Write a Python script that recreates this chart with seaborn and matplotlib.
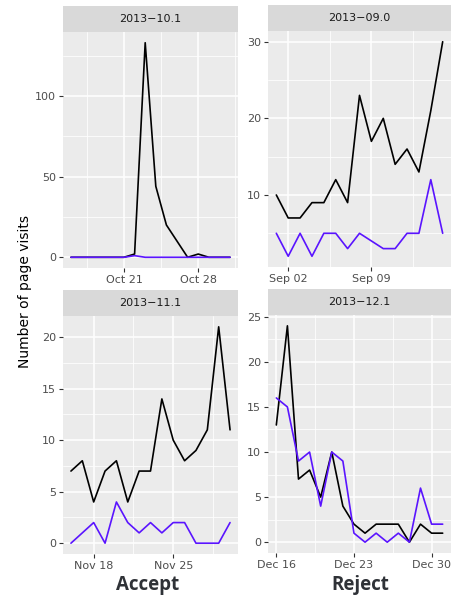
import pandas as pd
import numpy as np
import matplotlib
matplotlib.use("Agg")
import matplotlib.pyplot as plt
import matplotlib.dates as mdates
import seaborn as sns

# Daily page visits per facet (black line, purple line)
oct_start = "2013-10-16"
oct_black = [0, 0, 0, 0, 0, 0, 2, 133, 44, 20, 10, 0, 2, 0, 0, 0]
oct_purple = [0, 0, 0, 0, 0, 0, 1, 0, 0, 0, 0, 0, 0, 0, 0, 0]

sep_start = "2013-09-01"
sep_black = [10, 7, 7, 9, 9, 12, 9, 23, 17, 20, 14, 16, 13, 21, 30]
sep_purple = [5, 2, 5, 2, 5, 5, 3, 5, 4, 3, 3, 5, 5, 12, 5]

nov_start = "2013-11-16"
nov_black = [7, 8, 4, 7, 8, 4, 7, 7, 14, 10, 8, 9, 11, 21, 11]
nov_purple = [0, 1, 2, 0, 4, 2, 1, 2, 1, 2, 2, 0, 0, 0, 2]

dec_start = "2013-12-16"
dec_black = [13, 24, 7, 8, 5, 10, 4, 2, 1, 2, 2, 2, 0, 2, 1, 1]
dec_purple = [16, 15, 9, 10, 4, 10, 9, 1, 0, 1, 0, 1, 0, 6, 2, 2]

strip_labels = ["2013\u221210.1", "2013\u221209.0", "2013\u221211.1", "2013\u221212.1"]
x_ticks = [["2013-10-21", "2013-10-28"],
           ["2013-09-02", "2013-09-09"],
           ["2013-11-18", "2013-11-25"],
           ["2013-12-16", "2013-12-23", "2013-12-30"]]
y_ticks = [[0, 50, 100], [10, 20, 30], [0, 5, 10, 15, 20], [0, 5, 10, 15, 20, 25]]

panels = [(oct_start, oct_black, oct_purple),
          (sep_start, sep_black, sep_purple),
          (nov_start, nov_black, nov_purple),
          (dec_start, dec_black, dec_purple)]

sns.set_theme(style="darkgrid")
plt.rcParams['font.family'] = ['DejaVu Sans']

W, H = 463, 597
fig = plt.figure(figsize=(W / 100, H / 100), dpi=100)

# panel boxes in pixels: left, top, right, bottom (top = top of plotting area)
boxes = [(63, 32, 238, 268), (268, 31, 451, 267),
         (63, 316, 238, 554), (268, 315, 451, 553)]
strip_h = 26
palette = {"black": "black", "purple": "#5A14FF"}

for (start, black, purple), box, label, xt, yt in zip(panels, boxes, strip_labels, x_ticks, y_ticks):
    l, t, r, b = box
    ax = fig.add_axes([l / W, 1 - b / H, (r - l) / W, (b - t) / H])
    dates = pd.date_range(start, periods=len(black), freq="D")
    df = pd.DataFrame({
        "date": list(dates) * 2,
        "visits": black + purple,
        "series": ["black"] * len(black) + ["purple"] * len(purple),
    })
    sns.lineplot(data=df, x="date", y="visits", hue="series", palette=palette,
                 legend=False, ax=ax, linewidth=1.2)
    ax.set_facecolor("#EBEBEB")
    for s in ax.spines.values():
        s.set_visible(False)

    xmaj = mdates.date2num(pd.to_datetime(xt))
    ax.set_xticks(xmaj)
    ax.set_xticklabels([d.strftime("%b %d") for d in pd.to_datetime(xt)])
    ystep = yt[1] - yt[0]
    ax.set_yticks(yt)
    ax.set_yticklabels([str(v) for v in yt])
    xminor = np.concatenate([xmaj - 3.5, [xmaj[-1] + 3.5]])
    yminor = np.concatenate([np.array(yt) - ystep / 2, [yt[-1] + ystep / 2]])
    ax.set_xticks(xminor, minor=True)
    ax.set_yticks(yminor, minor=True)

    # ggplot-like expansion of 5% (set after ticks so ticks don't widen the view)
    vals = black + purple
    lo, hi = min(vals), max(vals)
    pad = (hi - lo) * 0.05
    ax.set_ylim(lo - pad, hi + pad)
    xnum = mdates.date2num(dates)
    xpad = (xnum[-1] - xnum[0]) * 0.05
    ax.set_xlim(xnum[0] - xpad, xnum[-1] + xpad)

    ax.grid(which="major", color="white", linewidth=1.1)
    ax.grid(which="minor", color="white", linewidth=0.55)
    ax.tick_params(which="major", length=3, width=0.8, color="#333333",
                   labelcolor="#4D4D4D", labelsize=8, pad=2, bottom=True, left=True)
    ax.tick_params(which="minor", length=0)
    ax.set_xlabel("")
    ax.set_ylabel("")
    ax.set_axisbelow(True)

    sax = fig.add_axes([l / W, 1 - t / H, (r - l) / W, strip_h / H])
    sax.set_facecolor("#D9D9D9")
    sax.set_xticks([])
    sax.set_yticks([])
    for s in sax.spines.values():
        s.set_visible(False)
    sax.grid(False)
    sax.text(0.5, 0.5, label, ha="center", va="center", fontsize=8, color="#1A1A1A",
             transform=sax.transAxes)

fig.text(25 / W, 1 - 292 / H, "Number of page visits", rotation=90, ha="center",
         va="center", fontsize=10, color="black")
fig.text(148 / W, 1 - 585 / H, "Accept", ha="center", va="center", fontsize=13.5,
         fontweight="bold", color="#2F3237", family=["Open Sans", "DejaVu Sans"])
fig.text(360 / W, 1 - 585 / H, "Reject", ha="center", va="center", fontsize=13.5,
         fontweight="bold", color="#2F3237", family=["Open Sans", "DejaVu Sans"])

fig.savefig("out.png", dpi=100, facecolor="white")
